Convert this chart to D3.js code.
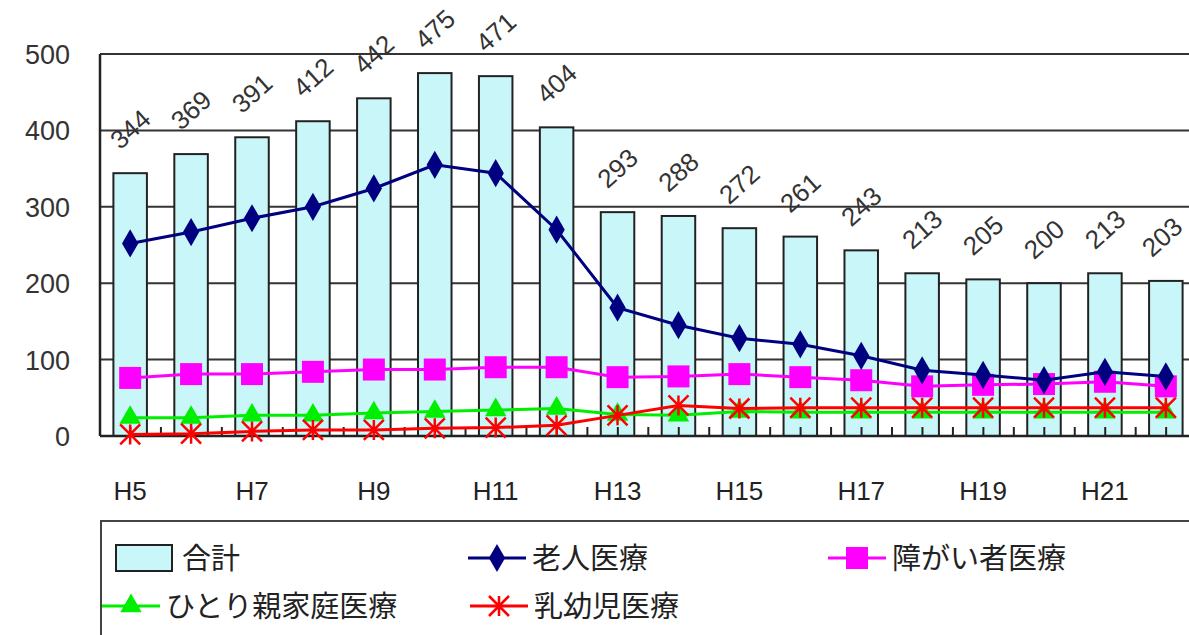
<!DOCTYPE html>
<html><head><meta charset="utf-8">
<script src="https://cdn.jsdelivr.net/npm/d3@7"></script>
<style>
body{margin:0;background:#fff;}
svg{display:block;}
</style></head>
<body>
<svg id="c" width="1189" height="635"></svg>
<script>
const categories = ["H5","H6","H7","H8","H9","H10","H11","H12","H13","H14","H15","H16","H17","H18","H19","H20","H21","H22"];
const tickLabels = ["H5","H7","H9","H11","H13","H15","H17","H19","H21"];
const total   = [344,369,391,412,442,475,471,404,293,288,272,261,243,213,205,200,213,203];
const elderly = [252,267,285,300,324,355,344,270,168,145,128,120,105,86,80,73,84,78];
const disabled= [76,81,81,84,87,87,90,90,77,78,81,77,73,65,67,68,71,65];
const single  = [24,24,27,27,30,32,34,36,28,27,32,31,31,31,31,31,31,31];
const infant  = [2,3,6,8,8,10,11,14,27,40,36,37,37,37,37,37,37,37];
const yTicks = [0,100,200,300,400,500];

const svg = d3.select("#c");
const L = 100, R = 1196, T = 54, B = 436;
const x = d3.scaleBand().domain(categories).range([L, R]).paddingInner(0.45).paddingOuter(0.22);
const y = d3.scaleLinear().domain([0,500]).range([B, T]);
const cx = d => x(d) + x.bandwidth()/2;
const step = x.step();
const numFont = "'Liberation Sans', Arial, sans-serif";
const jpFont = "'Noto Sans CJK JP', sans-serif";

// gridlines
svg.append("g").selectAll("line").data(yTicks.filter(v=>v>0)).join("line")
  .attr("x1", L).attr("x2", 1189).attr("y1", d=>y(d)).attr("y2", d=>y(d))
  .attr("stroke", "#333").attr("stroke-width", 2);

// y labels
svg.append("g").selectAll("text").data(yTicks).join("text")
  .attr("x", 70).attr("y", d=>y(d)+10).attr("text-anchor","end")
  .attr("font-family", numFont).attr("font-size", 27).attr("fill","#333")
  .text(d=>d);

// bars
svg.append("g").selectAll("rect").data(categories).join("rect")
  .attr("x", d=>x(d)).attr("width", x.bandwidth())
  .attr("y", (d,i)=>y(total[i])).attr("height", (d,i)=>B - y(total[i]))
  .attr("fill", "#c9f7f9").attr("stroke", "#222").attr("stroke-width", 2);

// axes lines
svg.append("line").attr("x1", L).attr("x2", L).attr("y1", T).attr("y2", B).attr("stroke","#222").attr("stroke-width",2.5);
svg.append("line").attr("x1", L).attr("x2", 1189).attr("y1", B).attr("y2", B).attr("stroke","#222").attr("stroke-width",2.5);

// minor ticks at each half band
const halfTicks = d3.range(categories.length*2+1).map(k => L + k*step/2);
svg.append("g").selectAll("line").data(halfTicks.filter(v=>v<1189)).join("line")
  .attr("x1", d=>d).attr("x2", d=>d).attr("y1", B).attr("y2", B-9)
  .attr("stroke","#222").attr("stroke-width",2);

// x labels
svg.append("g").selectAll("text").data(tickLabels).join("text")
  .attr("x", d=>cx(d)).attr("y", 500).attr("text-anchor","middle")
  .attr("font-family", numFont).attr("font-size", 26).attr("fill","#222")
  .text(d=>d);

// lines
const series = [
  {name:"老人医療", vals:elderly, color:"#000080", marker:"diamond"},
  {name:"障がい者医療", vals:disabled, color:"#ff00ff", marker:"square"},
  {name:"ひとり親家庭医療", vals:single, color:"#00ee00", marker:"triangle"},
  {name:"乳幼児医療", vals:infant, color:"#ff0000", marker:"star"}
];
const line = d3.line().x((d,i)=>cx(categories[i])).y(d=>y(d));
function drawMarker(g, type, color, px, py){
  if(type==="diamond"){
    g.append("path").attr("d", d3.symbol(d3.symbolDiamond, 230)()).attr("transform",`translate(${px},${py})`).attr("fill",color);
  } else if(type==="square"){
    g.append("rect").attr("x",px-11).attr("y",py-11).attr("width",22).attr("height",22).attr("fill",color);
  } else if(type==="triangle"){
    g.append("path").attr("d", d3.symbol(d3.symbolTriangle, 200)()).attr("transform",`translate(${px},${py})`).attr("fill",color);
  } else {
    const s = 10;
    g.append("path").attr("d",`M${px-s},${py-s}L${px+s},${py+s}M${px+s},${py-s}L${px-s},${py+s}M${px},${py-s}L${px},${py+s}`)
      .attr("stroke",color).attr("stroke-width",2.5);
  }
}
[series[2], series[3], series[1], series[0]].forEach(s=>{
  const g = svg.append("g");
  g.append("path").datum(s.vals).attr("d", line).attr("fill","none").attr("stroke", s.color).attr("stroke-width",3);
  s.vals.forEach((v,i)=>drawMarker(g, s.marker, s.color, cx(categories[i]), y(v)));
});

// data labels
svg.append("g").selectAll("text").data(categories).join("text")
  .attr("transform", (d,i)=>`translate(${Math.min(cx(d), 1162)},${y(total[i])-44}) rotate(-42)`)
  .attr("text-anchor","middle").attr("dy","0.35em")
  .attr("font-family", numFont).attr("font-size", 26).attr("fill","#333")
  .text((d,i)=>total[i]);

// legend
const lg = svg.append("g");
lg.append("rect").attr("x",101).attr("y",521).attr("width",1200).attr("height",200)
  .attr("fill","#fff").attr("stroke","#444").attr("stroke-width",2);
lg.append("rect").attr("x",116).attr("y",545).attr("width",56).attr("height",26)
  .attr("fill","#c9f7f9").attr("stroke","#222").attr("stroke-width",2);
lg.append("text").attr("x",182).attr("y",569).attr("font-family",jpFont).attr("font-size",29).attr("fill","#222").text("合計");
const legItems = [
  {s:series[0], x:468, y:558},
  {s:series[1], x:828, y:558},
  {s:series[2], x:102, y:606},
  {s:series[3], x:470, y:606}
];
legItems.forEach(it=>{
  lg.append("line").attr("x1",it.x).attr("x2",it.x+58).attr("y1",it.y).attr("y2",it.y).attr("stroke",it.s.color).attr("stroke-width",3);
  drawMarker(lg, it.s.marker, it.s.color, it.x+29, it.y);
  lg.append("text").attr("x",it.x+64).attr("y",it.y+11).attr("font-family",jpFont).attr("font-size",29).attr("fill","#222").text(it.s.name);
});
</script>
</body></html>
